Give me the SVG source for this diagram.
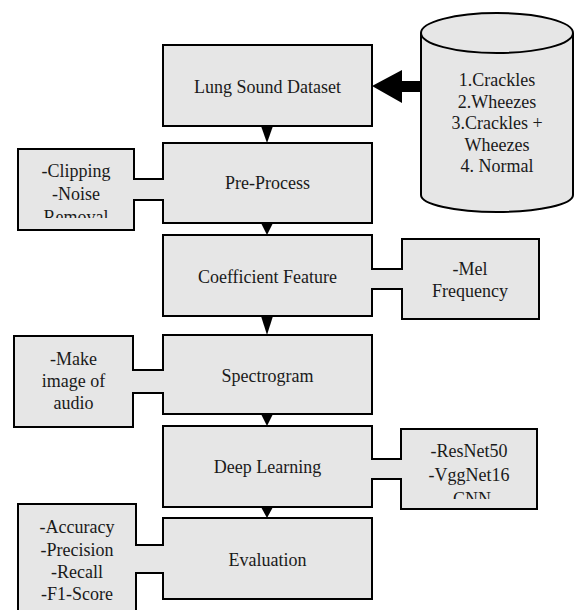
<svg xmlns="http://www.w3.org/2000/svg" width="574" height="610" viewBox="0 0 574 610">
<style>
.box{fill:#e6e6e6;stroke:#000;stroke-width:2}
.t{font-family:'Liberation Serif','Times New Roman',Times,'DejaVu Serif',serif;font-size:18px;fill:#1a1a1a;text-anchor:middle}
.band{fill:#e6e6e6;stroke:none}
.ln{stroke:#000;stroke-width:2;fill:none}
.tri{fill:#000}
</style>
<defs>
<clipPath id="clipA"><rect x="18" y="149" width="116" height="69"/></clipPath>
<clipPath id="clipB"><rect x="401" y="429" width="136" height="70"/></clipPath>
</defs>
<rect width="574" height="610" fill="#fff"/>
<g id="dataset-db">
<path class="box" d="M421,33 L421,195 A76,17 0 0 0 573,195 L573,33"/>
<ellipse class="box" cx="497" cy="33" rx="76" ry="20"/>
<text class="t" font-family="Liberation Serif, serif" x="497" y="86">1.Crackles</text>
<text class="t" x="497" y="107.5">2.Wheezes</text>
<text class="t" x="497" y="129">3.Crackles +</text>
<text class="t" x="497" y="150.5">Wheezes</text>
<text class="t" x="497" y="172">4. Normal</text>
</g>
<g id="lung-sound-dataset">
<rect class="box" x="163" y="45" width="209" height="81"/>
<text class="t" x="267.5" y="93">Lung Sound Dataset</text>
</g>
<g id="pre-process">
<rect class="box" x="163" y="143" width="209" height="80"/>
<text class="t" x="267.5" y="189">Pre-Process</text>
</g>
<g id="coefficient-feature">
<rect class="box" x="163" y="235" width="209" height="81"/>
<text class="t" x="267.5" y="283">Coefficient Feature</text>
</g>
<g id="spectrogram">
<rect class="box" x="163" y="335" width="209" height="79"/>
<text class="t" x="267.5" y="382">Spectrogram</text>
</g>
<g id="deep-learning">
<rect class="box" x="163" y="426" width="209" height="81"/>
<text class="t" x="267.5" y="473">Deep Learning</text>
</g>
<g id="evaluation">
<rect class="box" x="163" y="518" width="209" height="81"/>
<text class="t" x="267.5" y="566">Evaluation</text>
</g>
<g id="clipping-note">
<rect class="box" x="18" y="149" width="116" height="81"/>
<g clip-path="url(#clipA)">
<text class="t" x="76" y="177">-Clipping</text>
<text class="t" x="76" y="200">-Noise</text>
<text class="t" x="76" y="223">Removal</text>
</g>
</g>
<g id="mel-note">
<rect class="box" x="402" y="239" width="137" height="80"/>
<text class="t" x="470" y="275">-Mel</text>
<text class="t" x="470" y="297">Frequency</text>
</g>
<g id="image-note">
<rect class="box" x="14" y="336" width="119" height="91"/>
<text class="t" x="73.5" y="365">-Make</text>
<text class="t" x="73.5" y="387">image of</text>
<text class="t" x="73.5" y="409">audio</text>
</g>
<g id="models-note">
<rect class="box" x="401" y="429" width="136" height="80"/>
<g clip-path="url(#clipB)">
<text class="t" x="469" y="457">-ResNet50</text>
<text class="t" x="469" y="481">-VggNet16</text>
<text class="t" x="469" y="505">-CNN</text>
</g>
</g>
<g id="metrics-note">
<rect class="box" x="18" y="504" width="118" height="120"/>
<text class="t" x="77" y="533">-Accuracy</text>
<text class="t" x="77" y="556">-Precision</text>
<text class="t" x="77" y="578">-Recall</text>
<text class="t" x="77" y="600">-F1-Score</text>
</g>
<g id="connectors">
<polygon class="tri" points="372,86 402,70 402,81 422,81 422,92 402,92 402,103"/>
<polygon class="tri" points="261,126 273,126 267,143"/>
<polygon class="tri" points="261,223 273,223 267,235"/>
<polygon class="tri" points="261,316 273,316 267,335"/>
<polygon class="tri" points="261,414 273,414 267,426"/>
<polygon class="tri" points="261,507 273,507 267,518"/>
<rect class="band" x="133" y="180" width="31" height="19"/>
<path class="ln" d="M134,179 H163 M134,200 H163"/>
<rect class="band" x="371" y="270" width="32" height="18"/>
<path class="ln" d="M372,269 H402 M372,289 H402"/>
<rect class="band" x="132" y="371" width="32" height="21"/>
<path class="ln" d="M133,370 H163 M133,393 H163"/>
<rect class="band" x="371" y="460" width="31" height="18"/>
<path class="ln" d="M372,459 H401 M372,479 H401"/>
<rect class="band" x="135" y="546" width="29" height="26"/>
<path class="ln" d="M136,545 H163 M136,573 H163"/>
</g>
</svg>
